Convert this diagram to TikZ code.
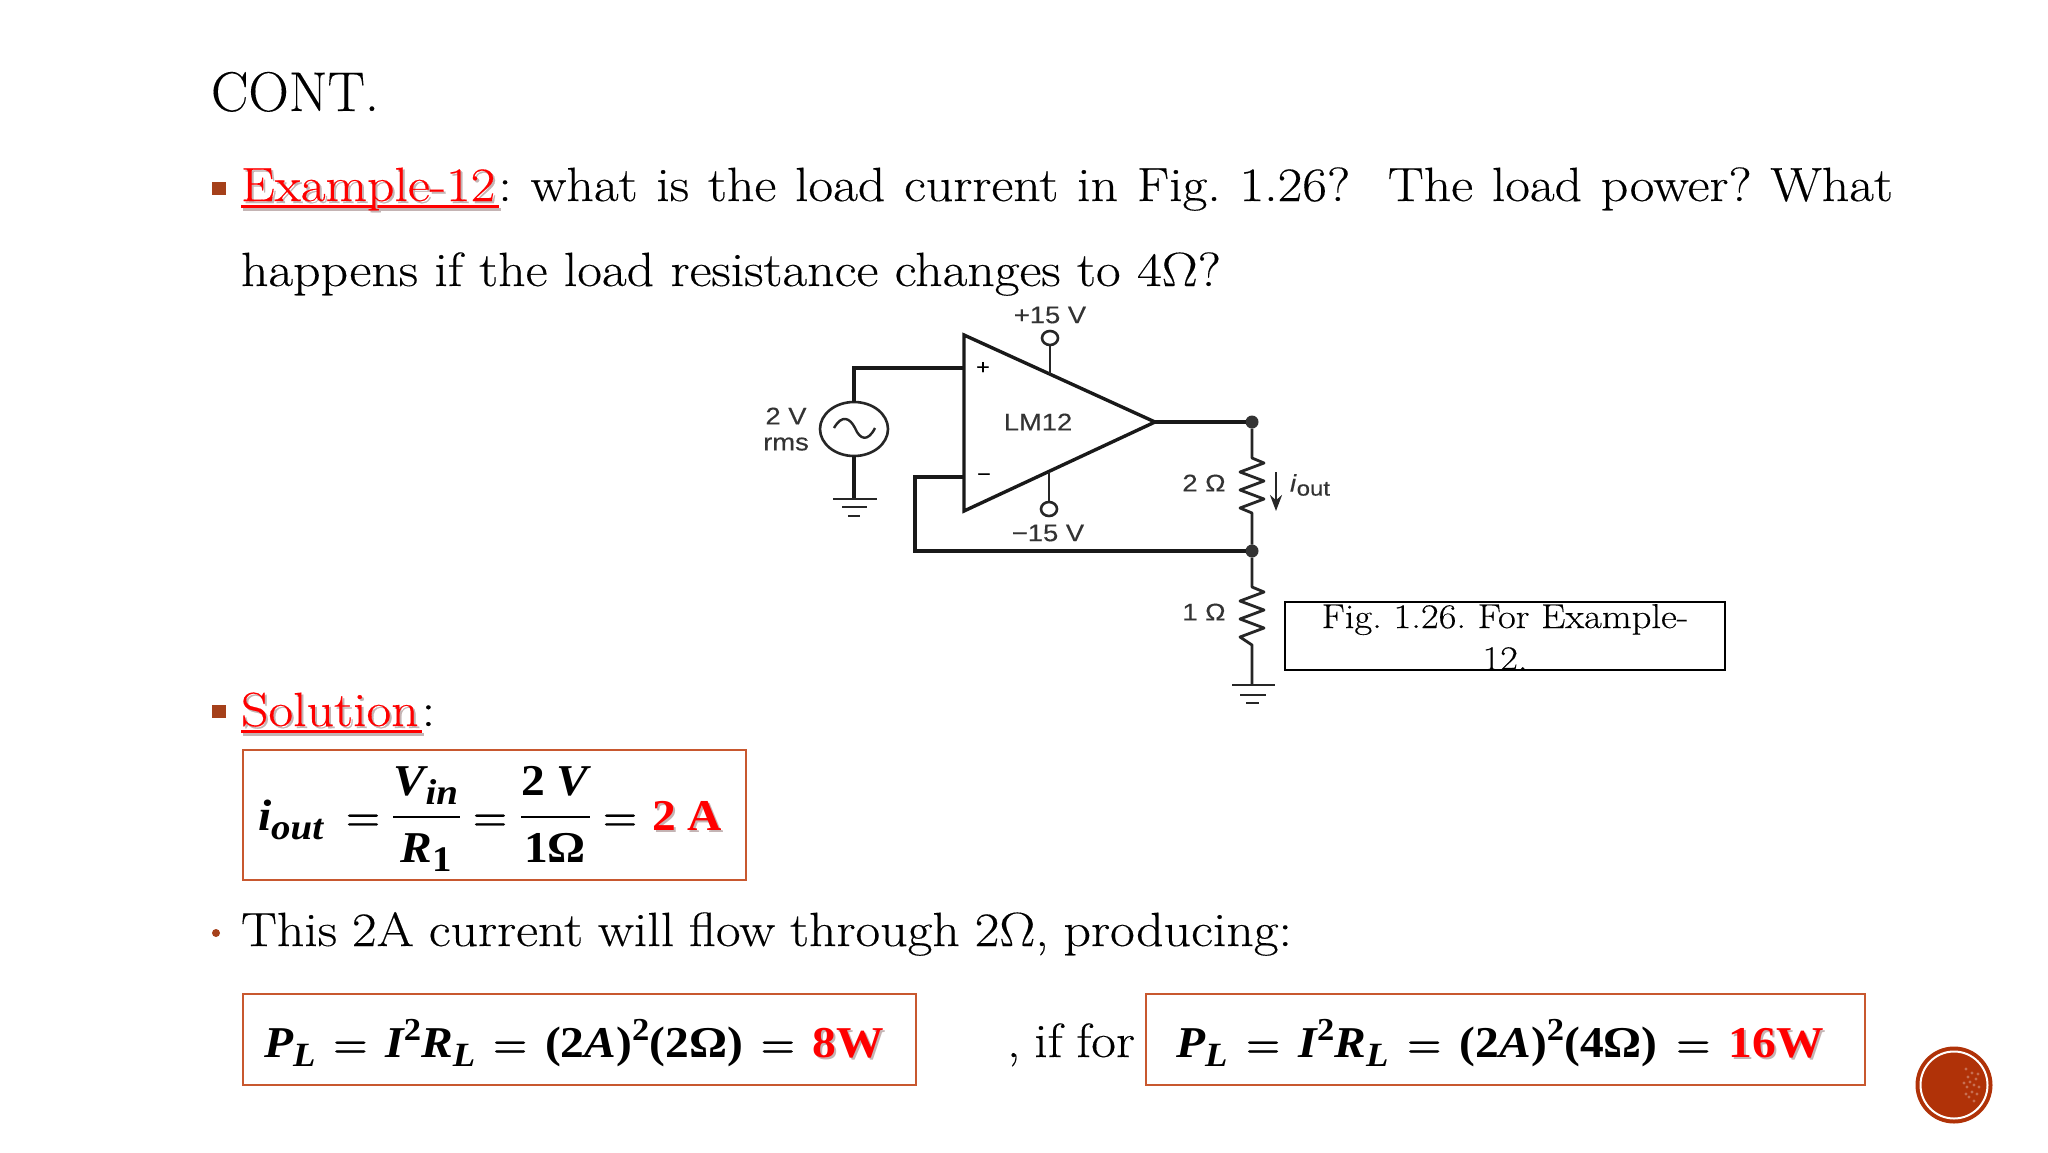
\documentclass[tikz,border=0pt]{standalone}
\usepackage{fontspec}
\setmainfont[FakeStretch=1.12,FakeBold=0.3]{Latin Modern Roman}
\newfontfamily\titlef[FakeBold=0.2]{Latin Modern Roman}
\newfontfamily\eqsym[FakeBold=0.4]{Latin Modern Roman}
\newfontfamily\lib[FakeStretch=1.14,FakeBold=0.3]{Liberation Sans}
\newfontfamily\eqf[FakeStretch=1.08]{Liberation Serif}
\definecolor{boxc}{HTML}{C8582F}
\definecolor{bulc}{HTML}{A5401A}
\definecolor{discc}{HTML}{B03208}
\definecolor{shad}{HTML}{C4B4B4}
\newcommand{\fs}[1]{\fontsize{#1}{#1}\selectfont}
\newcommand{\bi}[1]{{\bfseries\itshape #1}}
\newcommand{\up}[1]{\raisebox{17pt}{\fs{32}\bfseries #1}}
\newcommand{\dn}[1]{\raisebox{-9pt}{\fs{34}\bfseries\itshape #1}}
\newcommand{\eqs}{{\eqsym\fs{40}=}}
\newcommand{\redres}[1]{\rlap{\kern2pt\raisebox{-2pt}{\textcolor{shad}{#1}}}\textcolor{red}{#1}}
\newcommand{\powerline}[3]{\hbox to #1{\eqf\fs{44}\bfseries\bi{P}\dn{L}\hfil\eqs\hfil\bi{I}\up{2}\bi{R}\dn{L}\hfil\eqs\hfil(2\bi{A})\up{2}(#2Ω)\hfil\eqs\hfil\redres{#3}}}
\usetikzlibrary{shapes.geometric,arrows.meta}
\tikzset{
  every node/.style={inner sep=0pt,outer sep=0pt},
  body/.style={anchor=base west,font=\frenchspacing\fs{48}},
  cl/.style={font=\lib\fs{24},text=black!80},
  eqt/.style={font=\eqf\fs{44}\bfseries,anchor=base},
  bul/.style={fill=bulc,minimum width=14pt,minimum height=13pt},
  ebox/.style={draw=boxc,line width=2pt,fill=white,anchor=north west},
  wire/.style={line width=3.4pt,black!90},
  thin wire/.style={line width=2.8pt,black!85},
  jn/.style={circle,fill=black!80,minimum size=13pt},
  term/.style={ellipse,draw=black!85,line width=2.6pt,minimum width=16pt,minimum height=14pt,fill=white},
}
\begin{document}
\begin{tikzpicture}[x=1pt,y=-1pt]
\useasboundingbox (0,0) rectangle (2048,1152);
\fill[white] (0,0) rectangle (2048,1152);
% heading
\node[anchor=base west,font=\titlef\fs{56}] (title) at (211,111) {CONT.};
\node[bul] (b1) at (219,188) {};
\draw[shad,line width=3pt] (243,209) -- (501,209);
\draw[red,line width=3pt] (241,206) -- (499,206);
\node[body] (l1) at (241,201) {\hbox to 1652pt{\redres{Example-12}\kern3pt: what is the load current in Fig. 1.26?\ \ The load power? What}};
\node[body] (l2) at (241,286) {\hbox to 980pt{happens if the load resistance changes to 4Ω?}};
% circuit
\coordinate (opA) at (964,335);
\coordinate (opB) at (964,511);
\coordinate (opC) at (1155,422);
\draw[wire,line join=miter] (opA) -- (opC) -- (opB) -- cycle;
\node[cl] (lm) at (1038,422) {LM12};
\node[font=\lib\fs{20}] (pl) at (983,368) {+};
\node[font=\lib\fs{20}] (mn) at (984,477) {−};
\node[term] (tp) at (1050,338) {};
\node[term] (tm) at (1049,509) {};
\coordinate (tpe) at (1050,374);
\coordinate (tme) at (1049,472);
\draw[thin wire] (tp) -- (tpe);
\draw[thin wire] (tm) -- (tme);
\node[cl] (lp) at (1050,315) {+15 V};
\node[cl] (lmn) at (1048,533) {−15 V};
\node[ellipse,draw=black!85,line width=2.6pt,minimum width=68pt,minimum height=54pt] (src) at (854,429) {};
\draw[line width=2.4pt,black!85] (834,428) .. controls (842,414) and (850,418) .. (855,428) .. controls (860,440) and (868,442) .. (875,428);
\node[cl] (v2) at (786,416) {2 V};
\node[cl] (rms) at (786,444) {rms};
\coordinate (ipl) at (964,368);
\coordinate (imn) at (964,477);
\draw[wire] (ipl) -| (src.north);
\coordinate (g1) at (854,499);
\draw[wire] (src.south) -- (g1);
\draw[thin wire] (833,499) -- (877,499);
\draw[thin wire] (842,507) -- (867,507);
\draw[thin wire] (848,516) -- (860,516);
\node[jn] (n1) at (1252,422) {};
\node[jn] (n2) at (1252,551) {};
\coordinate (g2) at (1252,685);
\draw[wire] (opC) -- (n1);
\draw[wire] (imn) -- (915,477) -- (915,551) -- (n2);
\draw[thin wire,line join=round] (n1) -- (1252,458) -- (1264,463) -- (1240,472) -- (1264,481) -- (1240,490) -- (1264,499) -- (1240,508) -- (1252,513) -- (n2);
\draw[thin wire,line join=round] (n2) -- (1252,587) -- (1264,592) -- (1240,601) -- (1264,610) -- (1240,619) -- (1264,628) -- (1240,637) -- (1252,645) -- (g2);
\draw[thin wire] (1232,685) -- (1275,685);
\draw[thin wire] (1240,695) -- (1266,695);
\draw[thin wire] (1246,703) -- (1259,703);
\node[cl] (r2) at (1204,483) {2 Ω};
\node[cl] (r1) at (1204,612) {1 Ω};
\coordinate (ia) at (1276,472);
\coordinate (ib) at (1276,511);
\draw[line width=2.4pt,black!85,-{Stealth[length=16pt,width=12pt]}] (ia) -- (ib);
\node[font=\lib\fs{24},text=black!80] (iout) at (1310,485) {\textit{i}\raisebox{-4pt}{\fs{21}out}};
% figure caption
\node[draw=black,line width=1.6pt,minimum width=440pt,minimum height=68pt] (fig) at (1505,636) {};
\node[font=\frenchspacing\fs{34.5},anchor=base] (fig1) at (1505,628) {Fig. 1.26. For Example-};
\node[font=\frenchspacing\fs{34.5},anchor=base] (fig2) at (1505,670) {12.};
% solution
\node[bul] (b2) at (219,711) {};
\draw[shad,line width=3pt] (243,734) -- (424,734);
\draw[red,line width=3pt] (241,731) -- (422,731);
\node[body] (sol) at (241,726) {\redres{Solution}\kern3pt:};
% equation 1
\node[ebox,minimum width=503pt,minimum height=130pt] (e1) at (243,750) {};
\node[eqt,anchor=base west] (iv) at (258,830) {\bi{i}\raisebox{-9pt}{\fs{36}\bi{out}}};
\node[eqt] (eq1) at (363,830) {\eqs};
\node[eqt] (num1) at (426,795) {\bi{V}\raisebox{-9pt}{\fs{36}\bi{in}}};
\coordinate (f1a) at (393,817); \coordinate (f1b) at (460,817);
\draw[line width=2.6pt] (f1a) -- (f1b);
\node[eqt] (den1) at (426,862) {\bi{R}\raisebox{-9pt}{\fs{36}1}};
\node[eqt] (eq2) at (490,830) {\eqs};
\node[eqt] (num2) at (555,795) {2 \bi{V}};
\coordinate (f2a) at (521,817); \coordinate (f2b) at (590,817);
\draw[line width=2.6pt] (f2a) -- (f2b);
\node[eqt] (den2) at (555,862) {1Ω};
\node[eqt] (eq3) at (620,830) {\eqs};
\node[eqt] (res1) at (687,830) {\redres{2 A}};
% text line
\node[circle,fill=bulc,minimum size=8pt] (b3) at (216,933) {};
\node[body] (l3) at (241,946) {\hbox to 1051pt{This 2A current will flow through 2Ω, producing:}};
% equations 2 and 3
\node[ebox,minimum width=673pt,minimum height=91pt] (e2) at (243,994) {};
\node[anchor=base west] (p1) at (264,1057) {\powerline{620pt}{2}{8W}};
\node[body] (ifor) at (1007,1057) {\hbox to 128pt{, if for}};
\node[ebox,minimum width=719pt,minimum height=91pt] (e3) at (1146,994) {};
\node[anchor=base west] (p2) at (1176,1057) {\powerline{648pt}{4}{16W}};
% disc
\fill[discc] (1954,1085) circle[radius=38.5];
\draw[white,line width=2pt] (1954,1085) circle[radius=33.5];
\foreach \dx/\dy in {12/-16,18/-12,22/-6,14/-8,20/0,25/2,13/2,18/7,23/9,15/12,20/16,10/-2,16/-3,24/-11,12/9}
  \fill[white,opacity=.3] (1954+\dx,1085+\dy) circle[radius=1.6];
\end{tikzpicture}
\end{document}
